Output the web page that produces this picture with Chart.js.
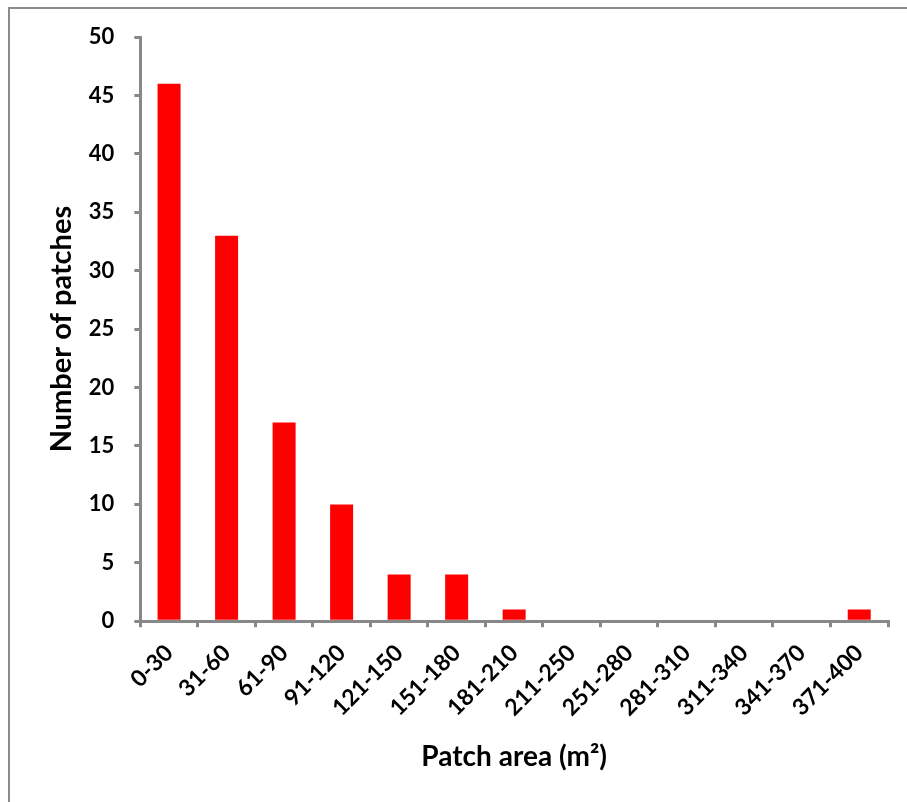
<!DOCTYPE html>
<html lang="en">
<head>
    <meta charset="UTF-8">
    <title>Number of patches by patch area</title>
    <script src="https://cdn.jsdelivr.net/npm/chart.js"></script>
    <style>
        body { margin: 0; background: #fff; }
        /* frame like the original figure box (top and left edges only visible) */
        #frame {
            position: absolute; left: 8px; top: 7px; width: 899px; height: 795px;
            border-top: 2px solid #8c8c8c; border-left: 2px solid #8c8c8c;
        }
        #myChart { position: absolute; left: 0; top: 0; }
    </style>
</head>
<body>
    <div id="frame"></div>
    <canvas id="myChart" width="907" height="802"></canvas>

    <script>
        // categories and counts
        const areaClasses = ['0-30', '31-60', '61-90', '91-120', '121-150', '151-180', '181-210',
            '211-250', '251-280', '281-310', '311-340', '341-370', '371-400'];
        const patchCounts = [46, 33, 17, 10, 4, 4, 1, 0, 0, 0, 0, 0, 1];
        const yTicks = [0, 5, 10, 15, 20, 25, 30, 35, 40, 45, 50];

        const axisGrey = '#888888';
        const fontFamily = 'Lato, "Open Sans", sans-serif';

        const ctx = document.getElementById('myChart').getContext('2d');
        new Chart(ctx, {
            type: 'bar',
            data: {
                labels: areaClasses,
                datasets: [{
                    label: 'Number of patches',
                    data: patchCounts,
                    backgroundColor: '#ff0000',
                    borderWidth: 0,
                    categoryPercentage: 1,
                    barPercentage: 0.4
                }]
            },
            options: {
                responsive: false,
                animation: false,
                layout: { padding: { top: 37, right: 19, left: 40, bottom: 24 } },
                plugins: { legend: { display: false }, tooltip: { enabled: false } },
                scales: {
                    x: {
                        grid: {
                            display: true, drawOnChartArea: false, offset: true,
                            color: axisGrey, lineWidth: 3, tickLength: 6
                        },
                        border: { color: axisGrey, width: 3 },
                        ticks: {
                            color: '#000', minRotation: 45, maxRotation: 45, padding: 12,
                            font: { family: fontFamily, size: 23, weight: 'bold' }
                        },
                        title: {
                            display: true, text: 'Patch area (m\u00b2)', color: '#000',
                            padding: { top: 7 },
                            font: { family: fontFamily, size: 28, weight: 'bold' }
                        }
                    },
                    y: {
                        min: 0, max: 50,
                        afterBuildTicks: axis => { axis.ticks = yTicks.map(v => ({ value: v })); },
                        grid: {
                            display: true, drawOnChartArea: false,
                            color: axisGrey, lineWidth: 3, tickLength: 6
                        },
                        border: { color: axisGrey, width: 3 },
                        ticks: {
                            color: '#000', padding: 20,
                            font: { family: fontFamily, size: 22, weight: 'bold' }
                        },
                        title: {
                            display: true, text: 'Number of patches', color: '#000',
                            padding: { bottom: -10 },
                            font: { family: fontFamily, size: 29, weight: 'bold' }
                        }
                    }
                }
            }
        });
    </script>
</body>
</html>
